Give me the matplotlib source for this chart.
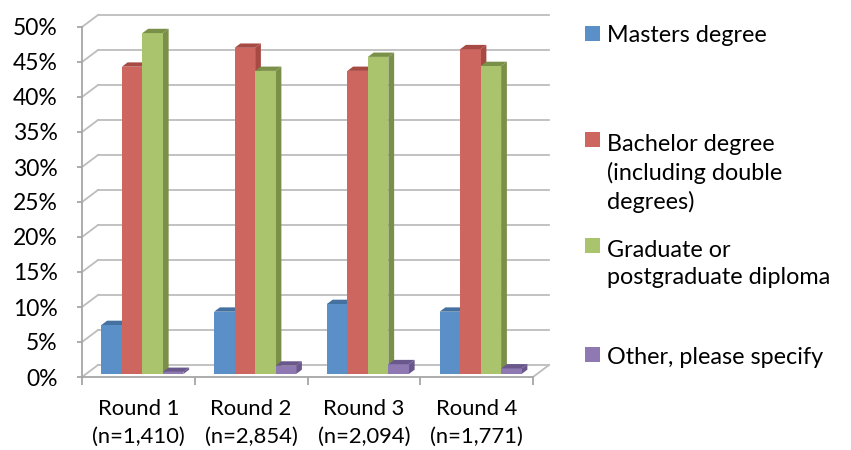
import matplotlib.pyplot as plt
from matplotlib.patches import Polygon, Rectangle

plt.rcParams['font.family'] = ['Lato', 'DejaVu Sans']

# survey responses by round
rounds = ['Round 1\n(n=1,410)', 'Round 2\n(n=2,854)', 'Round 3\n(n=2,094)', 'Round 4\n(n=1,771)']
series = ['Masters degree', 'Bachelor degree\n(including double\ndegrees)',
          'Graduate or\npostgraduate diploma', 'Other, please specify']
masters = [7.0, 8.9, 10.0, 8.9]
bachelor = [43.9, 46.6, 43.3, 46.4]
graduate = [48.7, 43.3, 45.3, 44.0]
other = [0.3, 1.2, 1.4, 0.8]
values = [masters, bachelor, graduate, other]

front_cols = ['#5B8FC7', '#CC665E', '#AAC46E', '#8E79B3']
dark_cols = ['#44719F', '#A84A44', '#7A8F48', '#6A588C']

PX_X = 112.75   # pixels per category
PX_Y = 7.0      # pixels per percent
DX = 16 / PX_X  # depth offset of the back wall
DY = 12 / PX_Y
D0 = 0.25       # bar front position in depth
T = 0.36        # bar thickness in depth
BW = 20.5 / PX_X
GRID = '#BDBDBD'
AXC = '#A6A6A6'

fig = plt.figure(figsize=(8.51, 4.5), dpi=100)
ax = fig.add_axes([82 / 851, 73 / 450, 478 / 851, 367 / 450])
ax.set_xlim(0, 478 / PX_X)
ax.set_ylim(0, 367 / PX_Y)
n = len(rounds)

# walls and floor
for v in range(0, 55, 5):
    ax.plot([DX, n + DX], [v + DY, v + DY], color=GRID, lw=1.3, clip_on=False, zorder=1)
    ax.plot([0, DX], [v, v + DY], color=GRID, lw=1.3, clip_on=False, zorder=1)
ax.plot([n, n + DX], [0, DY], color=GRID, lw=1.3, clip_on=False, zorder=1)

# pseudo-3D columns
for i, vals in enumerate(values):
    for j, v in enumerate(vals):
        xl = j + 0.5 - 2 * BW + i * BW + D0 * DX
        yb = D0 * DY
        ox, oy = T * DX, T * DY
        side = [(xl + BW, yb), (xl + BW, yb + v), (xl + BW + ox, yb + v + oy), (xl + BW + ox, yb + oy)]
        top = [(xl, yb + v), (xl + BW, yb + v), (xl + BW + ox, yb + v + oy), (xl + ox, yb + v + oy)]
        ax.add_patch(Polygon(side, closed=True, fc=dark_cols[i], ec='none', zorder=2, clip_on=False))
        ax.add_patch(Rectangle((xl, yb), BW, v, fc=front_cols[i], ec='none', zorder=2, clip_on=False))
        ax.add_patch(Polygon(top, closed=True, fc=dark_cols[i], ec='none', zorder=2, clip_on=False))

for s in ['top', 'right']:
    ax.spines[s].set_visible(False)
ax.spines['left'].set_bounds(0, 50)
ax.spines['bottom'].set_bounds(0, n)
for s in ['left', 'bottom']:
    ax.spines[s].set_color(AXC)
    ax.spines[s].set_linewidth(1.3)
    ax.spines[s].set_zorder(1)

ax.set_yticks(range(0, 55, 5))
ax.set_yticklabels(['%d%%' % v for v in range(0, 55, 5)])
ax.tick_params(axis='y', length=3.6, width=1.3, color=AXC, pad=14, labelsize=16.5)
ax.set_xticks([j + 0.5 for j in range(n)])
ax.set_xticklabels(rounds, linespacing=1.5)
ax.set_xticks(range(n + 1), minor=True)
ax.tick_params(axis='x', which='major', length=0, pad=16, labelsize=15.8)
ax.tick_params(axis='x', which='minor', length=5.8, width=1.3, color=AXC)

# legend on the right
first_line = [36, 142, 248, 357]
line_px = 31.5
for i, name in enumerate(series):
    nl = name.count('\n') + 1
    yc = first_line[i] + (nl - 1) * line_px / 2
    fig.patches.append(Rectangle((585 / 851, 1 - (first_line[i] + 5) / 450), 15 / 851, 15 / 450,
                                 transform=fig.transFigure, fc=front_cols[i], ec='none'))
    fig.text(607 / 851, 1 - yc / 450, name, fontsize=16.8, va='center', ha='left', linespacing=1.36)

fig.savefig('out.png', dpi=100)
